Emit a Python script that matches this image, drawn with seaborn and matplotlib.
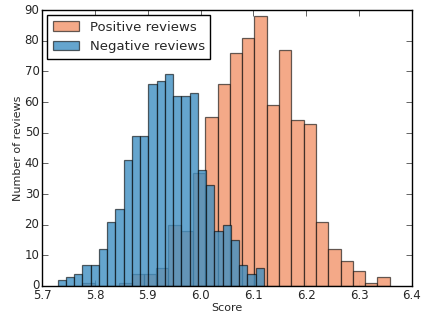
import matplotlib
matplotlib.use("Agg")
import matplotlib.pyplot as plt
import numpy as np
import pandas as pd
import seaborn as sns

# Bin counts (25 bins per series)
pos_counts = [1, 0, 0, 1, 4, 4, 6, 20, 18, 37, 55, 66, 76, 81, 88,
              59, 77, 54, 53, 21, 12, 8, 5, 1, 3]
neg_counts = [2, 3, 4, 7, 7, 12, 21, 25, 41, 49, 49, 66, 67, 69, 62,
              62, 63, 38, 33, 18, 20, 15, 7, 4, 6]

# Score range covered by each series
pos_range = (5.776, 6.358)
neg_range = (5.729, 6.120)

pos_edges = np.linspace(pos_range[0], pos_range[1], len(pos_counts) + 1)
neg_edges = np.linspace(neg_range[0], neg_range[1], len(neg_counts) + 1)
df_pos = pd.DataFrame({"score": (pos_edges[:-1] + pos_edges[1:]) / 2,
                       "count": pos_counts})
df_neg = pd.DataFrame({"score": (neg_edges[:-1] + neg_edges[1:]) / 2,
                       "count": neg_counts})

plt.style.use("classic")
sns.set_style("ticks", {"xtick.direction": "in", "ytick.direction": "in"})
plt.rcParams["font.family"] = ["DejaVu Sans"]

fig = plt.figure(figsize=(4.22, 3.16), dpi=100, facecolor="white")
ax = fig.add_axes([0.1, 0.095, 0.876, 0.873])

edge = (0, 0, 0, 0.6)
sns.histplot(data=df_pos, x="score", weights="count", bins=list(pos_edges),
             ax=ax, color="#F4A582", alpha=0.95, edgecolor=edge,
             linewidth=0.9, label="Positive reviews")
sns.histplot(data=df_neg, x="score", weights="count", bins=list(neg_edges),
             ax=ax, color="#3F8FC2", alpha=0.8, edgecolor=edge,
             linewidth=0.9, label="Negative reviews")

ax.set_xlim(5.7, 6.4)
ax.set_ylim(0, 90)
ax.set_xticks(np.arange(5.7, 6.41, 0.1))
ax.set_yticks(np.arange(0, 91, 10))
ax.tick_params(direction="in", top=True, right=True, labelsize=8.5, length=4,
               pad=2)
for s in ax.spines.values():
    s.set_visible(True)
    s.set_color("black")
ax.set_xlabel("Score", fontsize=8, labelpad=1)
ax.set_ylabel("Number of reviews", fontsize=8, labelpad=1)
ax.legend(loc="upper left", fontsize=9.5, frameon=True, fancybox=False,
          edgecolor="black", handlelength=2.0, borderaxespad=0.4)

fig.savefig("out.png", dpi=100, facecolor="white")
